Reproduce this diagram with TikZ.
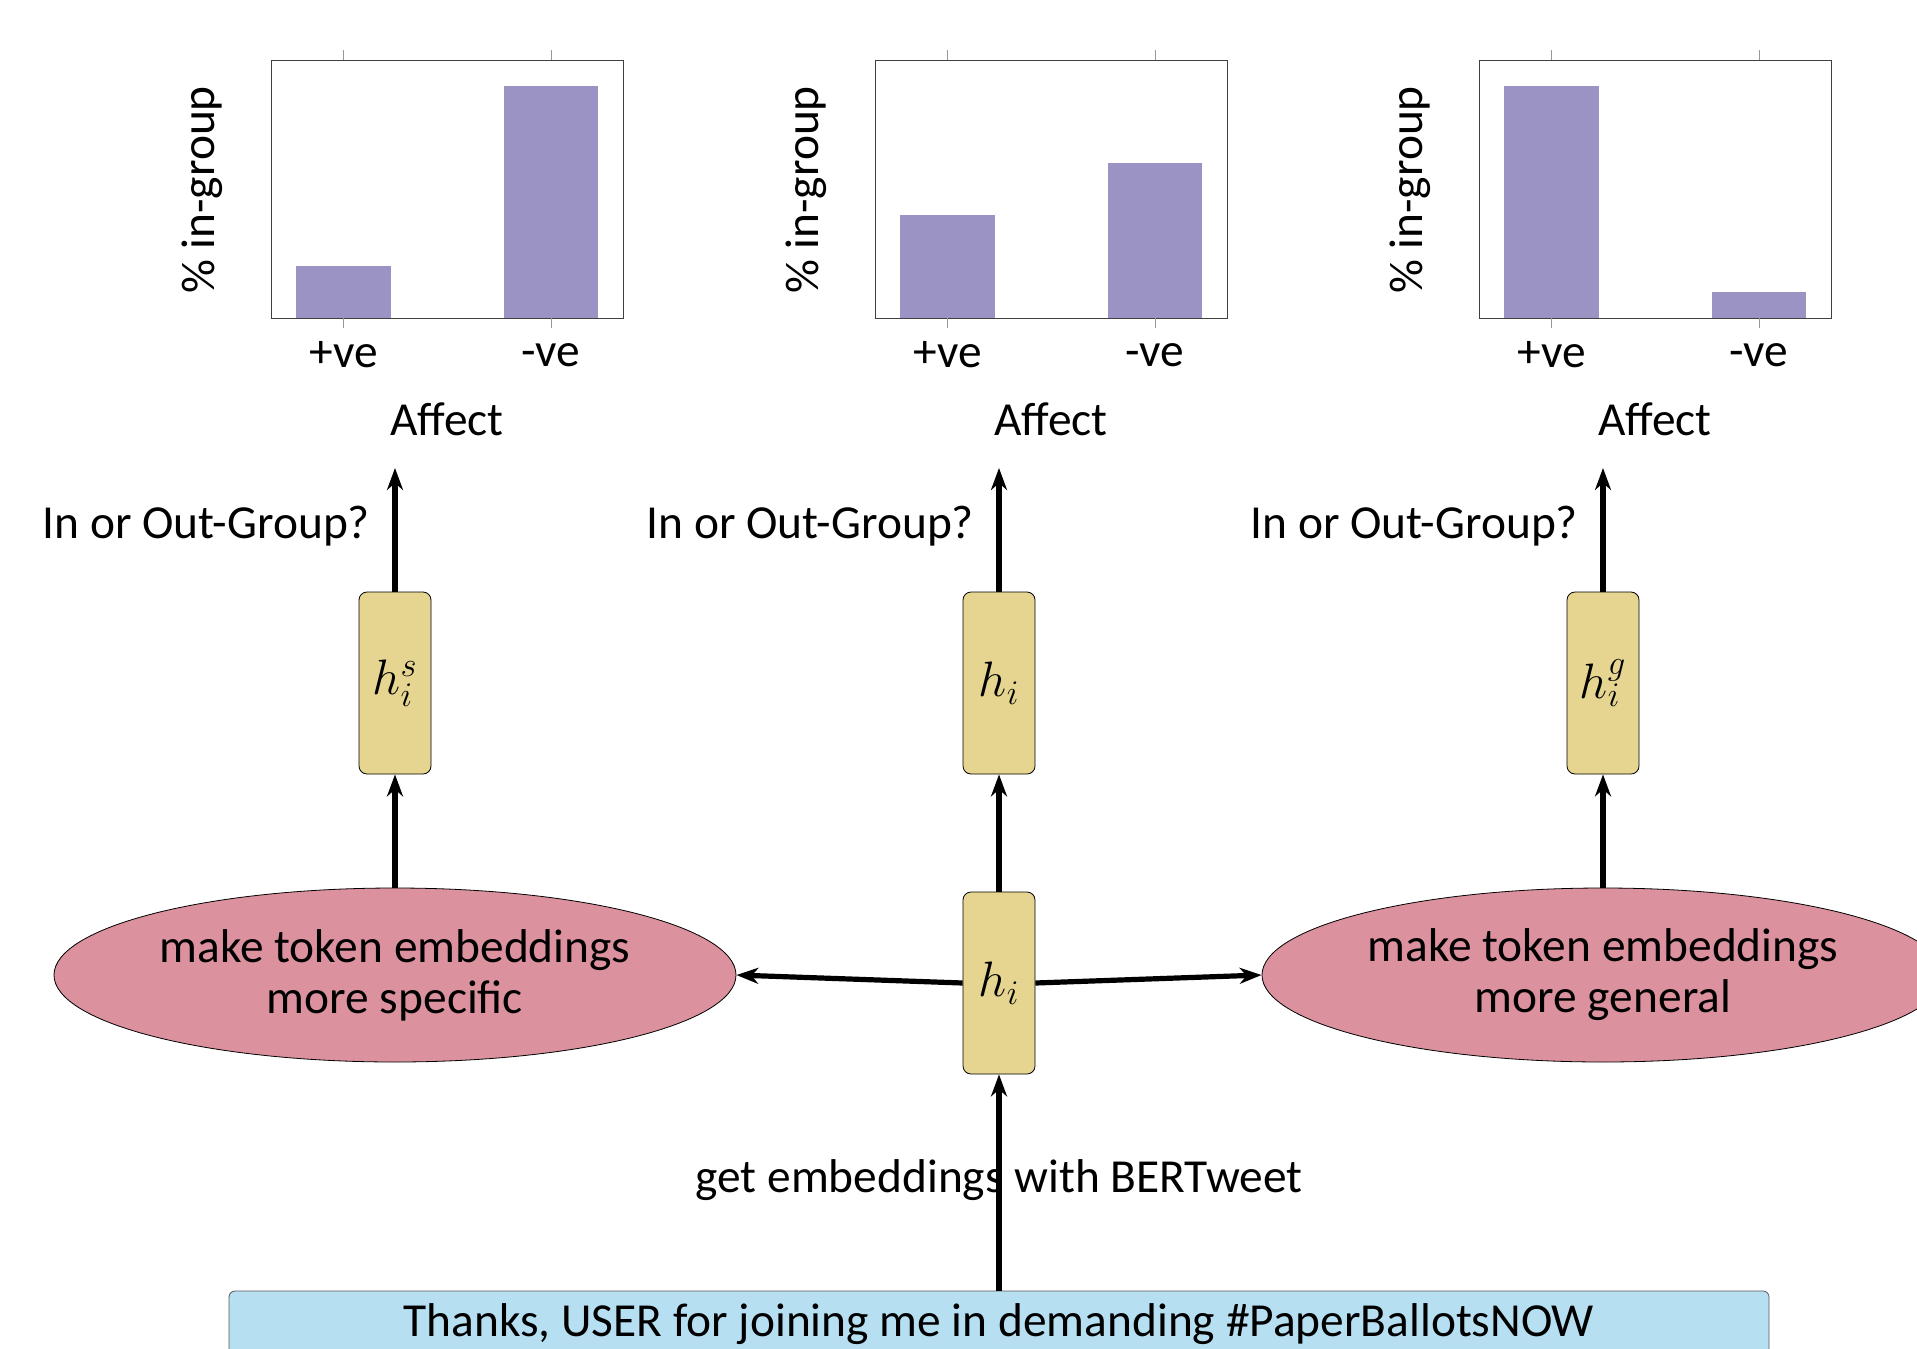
\documentclass[tikz,border=0pt]{standalone}
\usepackage{fontspec}
\setmainfont{Carlito}
\usetikzlibrary{shapes.geometric,arrows.meta}

\definecolor{barfill}{RGB}{154,147,196}
\definecolor{hfill}{RGB}{229,213,145}
\definecolor{ellfill}{RGB}{219,145,158}
\definecolor{tweetfill}{RGB}{183,223,242}

\tikzset{
  hbox/.style={draw, fill=hfill, rounded corners=4pt, minimum width=36pt,
    minimum height=91pt, inner sep=0pt, font=\fontsize{27}{30}\selectfont},
  effect/.style={ellipse, draw, fill=ellfill, minimum width=341pt,
    minimum height=87pt, inner sep=0pt, align=center},
  tweetbox/.style={draw=black!65, fill=tweetfill, rounded corners=3pt,
    minimum width=770pt, minimum height=33pt, inner sep=0pt},
  arr/.style={-{Stealth[length=11pt,width=8pt,inset=3.5pt]}, line width=2.6pt},
  frame/.style={draw=black!75, line width=0.5pt},
  tick/.style={draw=black!40, line width=0.5pt},
}

\begin{document}
\begin{tikzpicture}[x=0.5pt,y=-0.5pt,font=\fontsize{23.7}{25.5}\selectfont]
    \useasboundingbox (0,0) rectangle (1917,1349);
    \clip (0,0) rectangle (1917,1349);

    % chart for h_i^s
    \fill[barfill] (296,266) rectangle (391,318);
    \fill[barfill] (504,86) rectangle (598,318);
    \draw[frame] (271,60) rectangle (623,318);
    \draw[tick] (343.5,50) -- (343.5,60) (551,50) -- (551,60);
    \draw[tick] (343.5,318) -- (343.5,328) (551,318) -- (551,328);
    \node (pos1) at (343.5,355) {+ve};
    \node (neg1) at (551,355) {-ve};
    \node (aff1) at (447,419) {Affect};
    \node[rotate=90] (ylab1) at (202,190) {\% in-group};

    % chart for h_i
    \fill[barfill] (900,215) rectangle (995,318);
    \fill[barfill] (1108,163) rectangle (1202,318);
    \draw[frame] (875,60) rectangle (1227,318);
    \draw[tick] (947.5,50) -- (947.5,60) (1155,50) -- (1155,60);
    \draw[tick] (947.5,318) -- (947.5,328) (1155,318) -- (1155,328);
    \node (pos2) at (947.5,355) {+ve};
    \node (neg2) at (1155,355) {-ve};
    \node (aff2) at (1051,419) {Affect};
    \node[rotate=90] (ylab2) at (806,190) {\% in-group};

    % chart for h_i^g
    \fill[barfill] (1504,86) rectangle (1599,318);
    \fill[barfill] (1712,292) rectangle (1806,318);
    \draw[frame] (1479,60) rectangle (1831,318);
    \draw[tick] (1551.5,50) -- (1551.5,60) (1759,50) -- (1759,60);
    \draw[tick] (1551.5,318) -- (1551.5,328) (1759,318) -- (1759,328);
    \node (pos3) at (1551.5,355) {+ve};
    \node (neg3) at (1759,355) {-ve};
    \node (aff3) at (1655,419) {Affect};
    \node[rotate=90] (ylab3) at (1410,190) {\% in-group};

    % question labels and arrow ends
    \node[anchor=east] (q1) at (377,526) {In or Out-Group?};
    \node[anchor=east] (q2) at (981,526) {In or Out-Group?};
    \node[anchor=east] (q3) at (1585,526) {In or Out-Group?};
    \coordinate (top1) at (395,468);
    \coordinate (top2) at (999,468);
    \coordinate (top3) at (1603,468);

    % token vectors
    \node[hbox] (hs) at (395,683) {$h_i^s$};
    \node[hbox] (hmid) at (999,683) {$h_i$};
    \node[hbox] (hg) at (1603,683) {$h_i^g$};
    \node[hbox] (hlow) at (999,983) {$h_i$};

    \node[effect] (spec) at (395,975) {make token embeddings\\more specific};
    \node[effect] (gen) at (1603,975) {make token embeddings\\more general};

    \node (bert) at (999,1180) {get embeddings with BERTweet};
    \node[tweetbox] (tweet) at (999,1324) {Thanks, USER for joining me in demanding \#PaperBallotsNOW};

    \draw[arr] (tweet.north) -- (hlow.south);
    \draw[arr] (hlow.west) -- (spec.east);
    \draw[arr] (hlow.east) -- (gen.west);
    \draw[arr] (hlow.north) -- (hmid.south);
    \draw[arr] (spec.north) -- (hs.south);
    \draw[arr] (gen.north) -- (hg.south);
    \draw[arr] (hs.north) -- (top1);
    \draw[arr] (hmid.north) -- (top2);
    \draw[arr] (hg.north) -- (top3);
\end{tikzpicture}
\end{document}
